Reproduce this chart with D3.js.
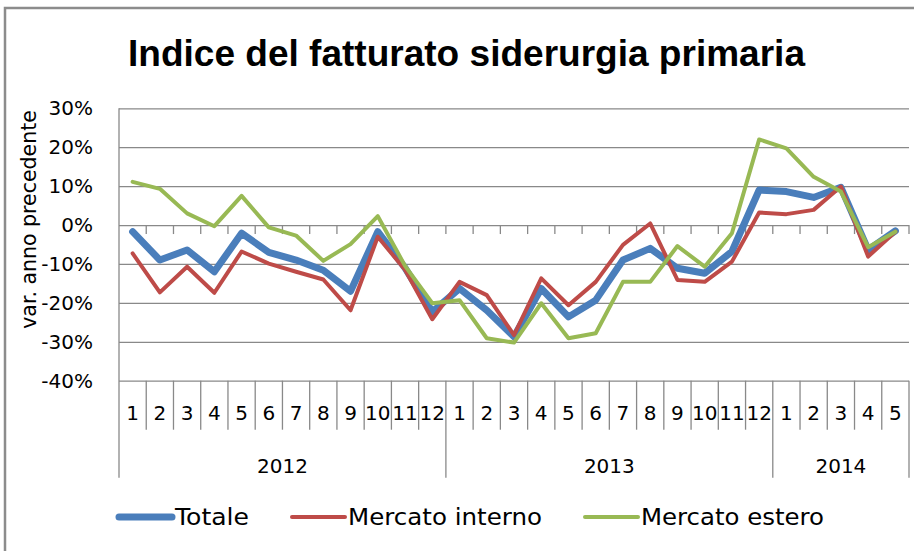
<!DOCTYPE html>
<html>
<head>
<meta charset="utf-8">
<script src="https://cdn.jsdelivr.net/npm/d3@7"></script>
<style>
  body { margin: 0; background: #fff; }
  text { font-family: "DejaVu Sans", sans-serif; fill: #000; }
</style>
</head>
<body>
<div id="chart"></div>
<script>
const WIDTH = 914;
const HEIGHT = 551;
const LEFT = 119, RIGHT = 909, TOP = 108.3, BOTTOM = 380.7;

// categories: month numbers grouped by year
var YEARS = ["2012", "2013", "2014"];
var MONTHS_PER_YEAR = [12, 12, 5];
var MONTHS = [];
YEARS.forEach((y, k) => {
  for (var m = 1; m <= MONTHS_PER_YEAR[k]; m++) MONTHS.push({ year: y, month: String(m) });
});

// series values, % change on previous year
var TOTALE = [-1.7, -9, -6.4, -12, -2.1, -7, -9, -11.6, -17, -1.7, -11, -22.3,
  -16.3, -21.9, -28.7, -16.3, -23.6, -19.3, -9, -6, -11.1, -12.4, -6.8, 9,
  8.6, 7.1, 9.7, -6.4, -1.5];
var INTERNO = [-7.3, -17.3, -10.7, -17.4, -6.8, -9.9, -12, -14, -21.9, -3, -11.5, -24.2,
  -14.6, -18, -28.3, -13.7, -20.6, -14.6, -5.1, 0.4, -14.1, -14.6, -9.4, 3.2,
  2.8, 3.9, 9.9, -8.1, -1.7];
var ESTERO = [11.1, 9.3, 3, -0.3, 7.5, -0.6, -2.7, -9.2, -4.9, 2.3, -10.5, -20.1,
  -19.3, -29.1, -30.2, -20.1, -29.1, -27.8, -14.6, -14.6, -5.4, -10.7, -2.1, 22,
  19.7, 12.4, 8.6, -5.7, -1.7];

var Y_TICKS = [-40, -30, -20, -10, 0, 10, 20, 30];

var SERIES = [
  { name: "Totale", values: TOTALE, color: "#4a7ebb", width: 7, legendX: 117, textW: 74 },
  { name: "Mercato interno", values: INTERNO, color: "#be4b48", width: 4, legendX: 290, textW: 194 },
  { name: "Mercato estero", values: ESTERO, color: "#98b954", width: 4, legendX: 583, textW: 183 }
];

var GRID = "#898989";

var svg = d3.select("#chart").append("svg")
  .attr("width", WIDTH).attr("height", HEIGHT);

//Chart border (left and top visible)
svg.append("path")
  .attr("d", "M5,551 V8 H914")
  .attr("fill", "none").attr("stroke", "#8c8c8c").attr("stroke-width", 2.5);

//Title
svg.append("text")
  .attr("x", 128).attr("y", 66)
  .attr("textLength", 677).attr("lengthAdjust", "spacingAndGlyphs")
  .style("font-family", "'Liberation Sans', sans-serif")
  .style("font-weight", "bold").style("font-size", "36px")
  .text("Indice del fatturato  siderurgia primaria");

//Scales
var xScale = d3.scaleBand().domain(d3.range(MONTHS.length)).range([LEFT, RIGHT]);
var yScale = d3.scaleLinear().domain([-40, 30]).range([BOTTOM, TOP]);
var bw = xScale.bandwidth();

//Y axis with gridlines
var yAxis = d3.axisLeft(yScale).tickValues(Y_TICKS)
  .tickSize(-(RIGHT - LEFT)).tickPadding(26)
  .tickFormat(d => d + "%");
var gy = svg.append("g")
  .attr("transform", "translate(" + LEFT + ",0)")
  .call(yAxis);
gy.select(".domain").remove();
gy.selectAll(".tick line").attr("stroke", GRID).attr("stroke-width", 1.3);
gy.selectAll(".tick text").style("font-size", "20px").style("font-family", "'DejaVu Sans', sans-serif").attr("fill", "#000");

//Left axis line, extends down through the label area
svg.append("line")
  .attr("x1", LEFT).attr("x2", LEFT)
  .attr("y1", TOP).attr("y2", BOTTOM + 97)
  .attr("stroke", GRID).attr("stroke-width", 1.3);

//Tick marks on the 0% axis
var bounds = d3.range(MONTHS.length + 1).map(i => i < MONTHS.length ? xScale(i) : xScale.range()[1]);
svg.append("g").selectAll("line")
  .data(bounds.slice(1))
  .enter().append("line")
  .attr("x1", d => d).attr("x2", d => d)
  .attr("y1", yScale(0)).attr("y2", yScale(0) + 9)
  .attr("stroke", GRID).attr("stroke-width", 1.3);

//Category separators below the plot
var yearStarts = [0];
MONTHS_PER_YEAR.forEach((n, k) => yearStarts.push(yearStarts[k] + n));
svg.append("g").selectAll("line")
  .data(bounds.map((b, i) => ({ x: b, i: i })).filter(d => d.i > 0))
  .enter().append("line")
  .attr("x1", d => d.x).attr("x2", d => d.x)
  .attr("y1", BOTTOM)
  .attr("y2", d => yearStarts.indexOf(d.i) >= 0 ? BOTTOM + 97 : BOTTOM + 49)
  .attr("stroke", GRID).attr("stroke-width", 1.3);

//Month labels
svg.append("g").selectAll("text")
  .data(MONTHS)
  .enter().append("text")
  .attr("x", (d, i) => xScale(i) + bw / 2)
  .attr("y", BOTTOM + 39)
  .attr("text-anchor", "middle")
  .style("font-size", "20px")
  .text(d => d.month);

//Year labels
svg.append("g").selectAll("text")
  .data(YEARS)
  .enter().append("text")
  .attr("x", (d, k) => (bounds[yearStarts[k]] + bounds[yearStarts[k + 1]]) / 2)
  .attr("y", BOTTOM + 92)
  .attr("text-anchor", "middle")
  .style("font-size", "20px")
  .text(d => d);

//Y axis title
svg.append("text")
  .attr("transform", "translate(36," + ((TOP + BOTTOM) / 2 - 25) + ") rotate(-90)")
  .attr("text-anchor", "middle")
  .style("font-size", "20.5px")
  .text("var. anno precedente");

//Lines
var line = d3.line()
  .x((d, i) => xScale(i) + bw / 2)
  .y(d => yScale(d));

svg.append("g").selectAll("path")
  .data(SERIES)
  .enter().append("path")
  .attr("d", d => line(d.values))
  .attr("fill", "none")
  .attr("stroke", d => d.color)
  .attr("stroke-width", d => d.width)
  .attr("stroke-linejoin", "round")
  .attr("stroke-linecap", "round");

//Legend
var lg = svg.append("g").selectAll("g")
  .data(SERIES)
  .enter().append("g")
  .attr("transform", d => "translate(" + d.legendX + ",517)");
lg.append("line")
  .attr("x1", 2).attr("x2", 55)
  .attr("stroke", d => d.color)
  .attr("stroke-width", d => d.width)
  .attr("stroke-linecap", "round");
lg.append("text")
  .attr("x", 58).attr("y", 8)
  .attr("textLength", d => d.textW).attr("lengthAdjust", "spacingAndGlyphs")
  .style("font-size", "23px")
  .text(d => d.name);
</script>
</body>
</html>
